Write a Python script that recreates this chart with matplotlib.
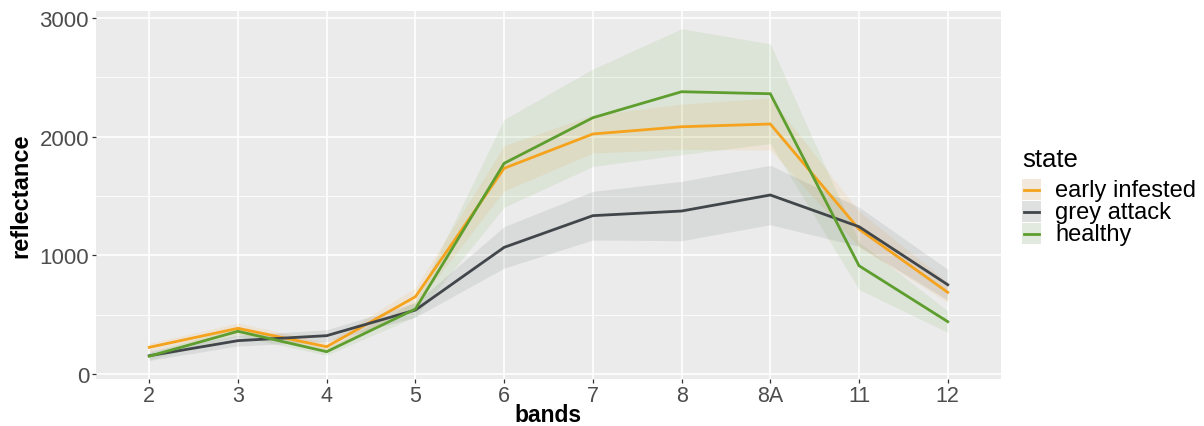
import matplotlib
matplotlib.use("Agg")
import matplotlib.pyplot as plt
from matplotlib.patches import Rectangle
from matplotlib.lines import Line2D
import numpy as np

plt.rcParams['font.family'] = ['Liberation Sans', 'DejaVu Sans']

bands = ["2", "3", "4", "5", "6", "7", "8", "8A", "11", "12"]
states = ["early infested", "grey attack", "healthy"]

early_mean = [225, 385, 230, 651, 1733, 2022, 2083, 2106, 1220, 688]
early_sd = [35, 45, 35, 75, 190, 160, 190, 220, 150, 85]

grey_mean = [154, 281, 323, 539, 1067, 1334, 1373, 1508, 1241, 752]
grey_sd = [40, 45, 50, 60, 175, 205, 250, 250, 165, 130]

healthy_mean = [150, 360, 188, 548, 1775, 2159, 2378, 2361, 912, 441]
healthy_sd = [30, 40, 30, 65, 370, 410, 530, 420, 200, 90]

colors = ["#F5A31D", "#41464A", "#5E9E2E"]
means = [early_mean, grey_mean, healthy_mean]
sds = [early_sd, grey_sd, healthy_sd]

W, H = 1204, 427
fig = plt.figure(figsize=(W / 100, H / 100), dpi=100)
ax = fig.add_axes([96 / W, 1 - 380 / H, (1001 - 96) / W, (380 - 12) / H])
ax.set_facecolor("#EBEBEB")

x = np.arange(1, len(bands) + 1)
for m, s, c in zip(means, sds, colors):
    m = np.array(m, float)
    s = np.array(s, float)
    ax.fill_between(x, m - s, m + s, color=c, alpha=0.1, linewidth=0, zorder=2)
for m, c, name in zip(means, colors, states):
    ax.plot(x, m, color=c, lw=2.0, zorder=3, label=name, solid_joinstyle="miter")

ax.set_xlim(0.4, len(bands) + 0.6)
ax.set_ylim(-42, 3058)
ax.set_xticks(x)
ax.set_xticklabels(bands)
ax.set_yticks([0, 1000, 2000, 3000])
ax.set_yticks([500, 1500, 2500], minor=True)
ax.grid(True, which="major", color="white", lw=1.2, zorder=1)
ax.grid(True, which="minor", axis="y", color="white", lw=0.6, zorder=1)
ax.set_axisbelow(True)
for sp in ax.spines.values():
    sp.set_visible(False)
ax.tick_params(axis="both", which="major", length=3, width=0.9, color="#333333",
               labelcolor="#4D4D4D", labelsize=16, pad=2)
ax.tick_params(axis="x", which="major", labelsize=15.5, pad=1.5)
ax.tick_params(axis="both", which="minor", length=0)
ax.set_xlabel("bands", fontsize=16.5, fontweight="bold", labelpad=-2)
ax.set_ylabel("reflectance", fontsize=17, fontweight="bold", labelpad=5)

# legend drawn manually in pixel coordinates
def fx(px):
    return px / W

def fy(py):
    return 1 - py / H

fig.text(fx(1022), fy(167), "state", fontsize=18.5, ha="left", va="baseline")
row_top = [180, 202, 224]
for i, (c, name) in enumerate(zip(colors, states)):
    top = row_top[i]
    rect = Rectangle((fx(1022), fy(top + 21)), fx(19), 21 / H, transform=fig.transFigure,
                     facecolor="#F2F2F2", edgecolor="none")
    fig.add_artist(rect)
    rect2 = Rectangle((fx(1022), fy(top + 21)), fx(19), 21 / H, transform=fig.transFigure,
                      facecolor=c, alpha=0.1, edgecolor="none")
    fig.add_artist(rect2)
    fig.add_artist(Line2D([fx(1024), fx(1039)], [fy(top + 10.5), fy(top + 10.5)],
                          transform=fig.transFigure, color=c, lw=2.0))
    fig.text(fx(1055), fy(top + 11), name, fontsize=17, ha="left", va="center")

fig.savefig("out.png", dpi=100)
